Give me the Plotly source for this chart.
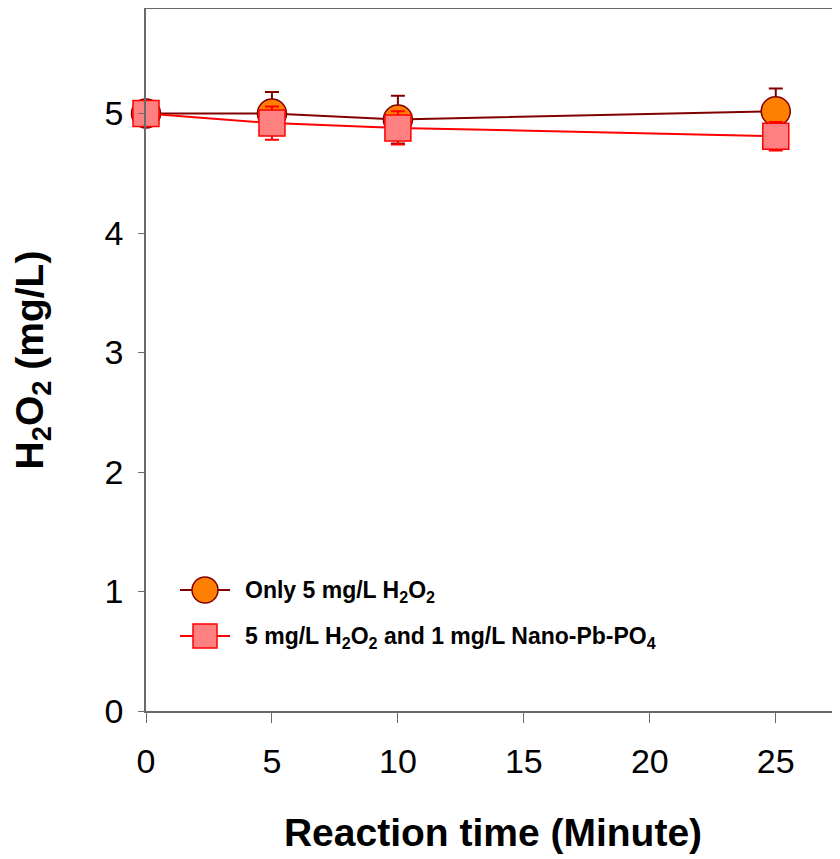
import plotly.graph_objects as go

# ---- data ----
time_min = [0, 5, 10, 25]
only_h2o2 = [5.0, 5.0, 4.95, 5.02]
only_h2o2_err = [0.0, 0.18, 0.2, 0.19]
h2o2_nano = [5.0, 4.92, 4.88, 4.81]
h2o2_nano_err = [0.0, 0.14, 0.14, 0.12]
x_ticks = [0, 5, 10, 15, 20, 25]
y_ticks = [0, 1, 2, 3, 4, 5]

name1 = "<b>Only 5 mg/L H<sub>2</sub>O<sub>2</sub></b>"
name2 = "<b>5 mg/L H<sub>2</sub>O<sub>2</sub> and 1 mg/L Nano-Pb-PO<sub>4</sub></b>"

FONT = "Liberation Sans, Arial, sans-serif"
c1_line, c1_fill = "#800000", "#FF8000"
c2_line, c2_fill = "#FF0000", "#FF8080"

fig = go.Figure()
fig.add_trace(go.Scatter(
    x=time_min, y=only_h2o2, name=name1, showlegend=False,
    mode="lines+markers", cliponaxis=False,
    line=dict(color=c1_line, width=2),
    marker=dict(symbol="circle", size=29, color=c1_fill,
                line=dict(color=c1_line, width=1.5)),
    error_y=dict(type="data", array=only_h2o2_err, color=c1_line,
                 thickness=2, width=7),
))
fig.add_trace(go.Scatter(
    x=time_min, y=h2o2_nano, name=name2, showlegend=False,
    mode="lines+markers", cliponaxis=False,
    line=dict(color=c2_line, width=2),
    marker=dict(symbol="square", size=26, color=c2_fill,
                line=dict(color=c2_line, width=1.5)),
    error_y=dict(type="data", array=h2o2_nano_err, color=c2_line,
                 thickness=2, width=7),
))

# ---- manual legend on an overlay axis pair (pixel-like coordinates) ----
leg_y = [590, 636]
leg_items = [(name1, c1_line, c1_fill, "circle", 26),
             (name2, c2_line, c2_fill, "square", 24)]
for (nm, lc, fc, sym, sz), yy in zip(leg_items, leg_y):
    fig.add_trace(go.Scatter(x=[180, 230], y=[yy, yy], mode="lines",
                             line=dict(color=lc, width=2), showlegend=False,
                             hoverinfo="skip", xaxis="x2", yaxis="y2"))
    fig.add_trace(go.Scatter(x=[205], y=[yy], mode="markers",
                             marker=dict(symbol=sym, size=sz, color=fc,
                                         line=dict(color=lc, width=1.5)),
                             showlegend=False, hoverinfo="skip",
                             xaxis="x2", yaxis="y2"))
    fig.add_annotation(x=243, y=yy + 1, xref="x2", yref="y2", text=nm,
                       showarrow=False, xanchor="left", yanchor="middle",
                       font=dict(family=FONT, size=23, color="black"))

axis_font = dict(family=FONT, size=34, color="black")
fig.update_layout(
    width=832, height=851,
    margin=dict(l=138, r=0, t=1, b=148),
    paper_bgcolor="white", plot_bgcolor="white",
    showlegend=False,
    xaxis=dict(range=[0, 27.55], tickvals=x_ticks,
               showgrid=False, zeroline=False, showline=True, mirror=True,
               linecolor="#6a6a6a", linewidth=1.5,
               ticks="outside", ticklen=10, tickcolor="#6a6a6a", tickwidth=1.2,
               ticklabelstandoff=9,
               tickfont=axis_font,
               title=dict(text="<b>Reaction time (Minute)</b>",
                          font=dict(family=FONT, size=39, color="black"),
                          standoff=40)),
    yaxis=dict(range=[0, 5.875], tickvals=y_ticks,
               showgrid=False, zeroline=False, showline=True, mirror=False,
               linecolor="#6a6a6a", linewidth=1.5,
               ticks="outside", ticklen=6, tickcolor="#6a6a6a", tickwidth=1.2,
               ticklabelstandoff=8,
               tickfont=axis_font,
               title=dict(text="<b>H<sub>2</sub>O<sub>2</sub> (mg/L)</b>",
                          font=dict(family=FONT, size=39, color="black"),
                          standoff=50)),
    xaxis2=dict(domain=[0, 1], range=[146, 840], visible=False,
                anchor="y2", overlaying="x", fixedrange=True),
    yaxis2=dict(domain=[0, 1], range=[711, 9], visible=False,
                anchor="x2", overlaying="y", fixedrange=True),
)
fig.write_html("out.html")
